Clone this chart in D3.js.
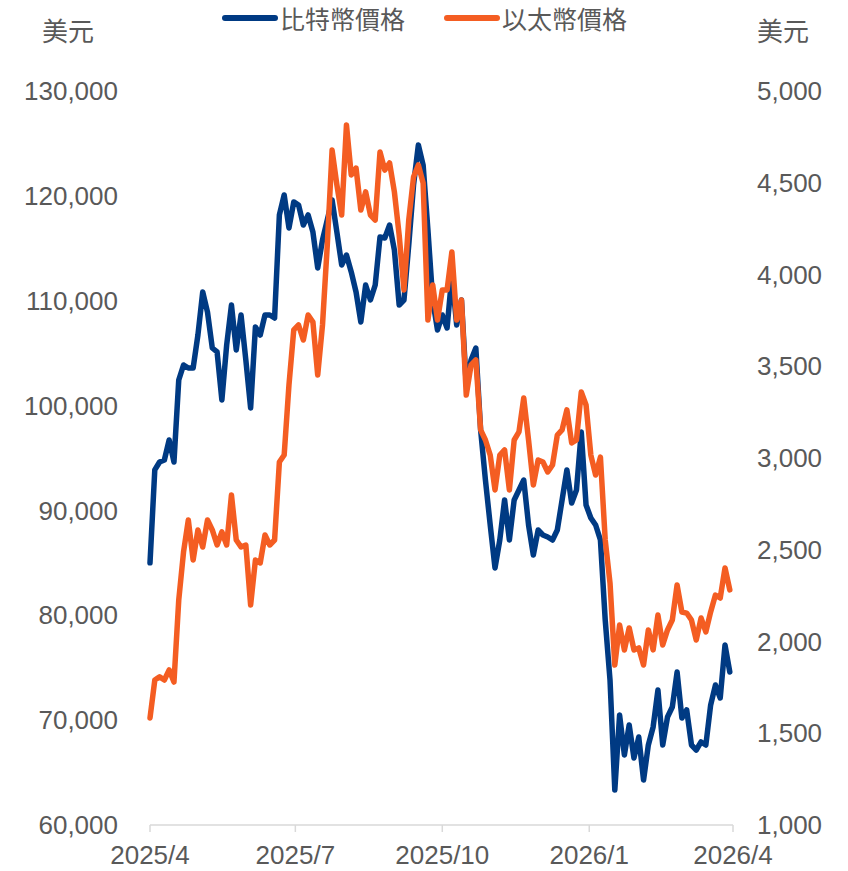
<!DOCTYPE html>
<html><head><meta charset="utf-8">
<script src="https://cdn.jsdelivr.net/npm/d3@7"></script>
<style>body{margin:0;background:#fff}svg{display:block}</style>
</head><body>
<script>
const startDate = "2025-04-01";
const stepDays = 3;
const btcValues = [85000,93860,94620,94810,96720,94620,102440,103870,103580,103580,
106730,110830,108920,105490,105110,100530,105780,109590,105300,108640,
104350,99770,107490,106730,108640,108640,108350,118180,120080,116940,
119420,119130,117220,118180,116550,113120,115790,117700,119610,116550,
113410,114360,112740,110830,107970,111500,110070,111500,116080,115980,
117220,114840,109590,110070,115310,121040,124850,122940,116740,110070,
107210,108640,107400,112450,107690,110070,101960,104350,105490,97670,
92900,88610,84510,87180,91000,87180,91000,91950,92900,88610,
85750,88130,87660,87470,87180,88130,91000,93860,90710,91950,
97480,90520,89280,88610,87180,79550,73830,63340,70490,66680,
69540,66390,68390,64290,67630,69350,72870,67630,70300,71250,
74590,70200,70970,67630,67150,67920,67630,71440,73350,72110,
77170,74590];
const ethValues = [1583,1790,1807,1790,1845,1779,2226,2488,2662,2444,
2608,2515,2662,2608,2526,2597,2526,2798,2553,2515,
2526,2199,2444,2428,2580,2526,2553,2978,3016,3398,
3698,3725,3643,3779,3741,3452,3725,4161,4678,4488,
4324,4815,4542,4580,4351,4450,4324,4297,4668,4569,
4608,4450,4215,3916,4297,4531,4597,4499,3752,3943,
3752,3916,3916,4123,3752,3861,3343,3507,3534,3153,
3098,3016,2826,3016,3044,2826,3098,3142,3327,3098,
2853,2989,2978,2924,2962,3125,3153,3262,3082,3098,
3360,3289,3016,2907,3005,2553,2319,1872,2090,1954,
2074,1954,1965,1872,2063,1954,2144,1981,2063,2117,
2308,2161,2155,2117,2008,2128,2052,2161,2253,2237,
2401,2281];
const xTickDates = ["2025-04-01","2025-07-01","2025-10-01","2026-01-01","2026-04-01"];
const xTickLabels = ["2025/4","2025/7","2025/10","2026/1","2026/4"];
const leftTicks = [60000,70000,80000,90000,100000,110000,120000,130000];
const rightTicks = [1000,1500,2000,2500,3000,3500,4000,4500,5000];
const seriesNames = ["比特幣價格","以太幣價格"];
const unitLabel = "美元";

const W = 848, H = 871;
const parse = d3.timeParse("%Y-%m-%d");
const start = parse(startDate);
const dates = btcValues.map((_, i) => d3.timeDay.offset(start, i * stepDays));

const x = d3.scaleTime().domain([parse("2025-04-01"), parse("2026-04-01")]).range([150, 733]);
const yL = d3.scaleLinear().domain([60000, 130000]).range([825, 91]);
const yR = d3.scaleLinear().domain([1000, 5000]).range([825, 91]);

const gray = "#595959";
const font = "'Liberation Sans', Arial, sans-serif";
const cjk = "'Noto Sans CJK TC', 'Noto Sans CJK SC', sans-serif";
const blue = "#003A83", orange = "#F45D22";

const svg = d3.select("body").append("svg").attr("width", W).attr("height", H);

// x axis
const xAxis = svg.append("g").attr("transform", "translate(0,825)");
xAxis.append("line").attr("x1", 150).attr("x2", 733).attr("stroke", "#d9d9d9").attr("stroke-width", 1.5);
xTickDates.forEach((d, i) => {
  const xp = x(parse(d));
  xAxis.append("line").attr("x1", xp).attr("x2", xp).attr("y1", 0).attr("y2", 7)
    .attr("stroke", "#d9d9d9").attr("stroke-width", 1.5);
  xAxis.append("text").attr("x", xp).attr("y", 39).attr("text-anchor", "middle")
    .attr("font-family", font).attr("font-size", 26).attr("fill", gray).text(xTickLabels[i]);
});

// left axis labels
const fmt = d3.format(",");
leftTicks.forEach(v => {
  svg.append("text").attr("x", 118).attr("y", yL(v)).attr("dy", "0.35em")
    .attr("text-anchor", "end").attr("font-family", font).attr("font-size", 26)
    .attr("fill", gray).text(fmt(v));
});
rightTicks.forEach(v => {
  svg.append("text").attr("x", 757).attr("y", yR(v)).attr("dy", "0.35em")
    .attr("text-anchor", "start").attr("font-family", font).attr("font-size", 26)
    .attr("fill", gray).text(fmt(v));
});

// unit labels
svg.append("text").attr("x", 42).attr("y", 41).attr("font-family", cjk).attr("font-size", 26)
  .attr("fill", gray).text(unitLabel);
svg.append("text").attr("x", 757).attr("y", 41).attr("font-family", cjk).attr("font-size", 26)
  .attr("fill", gray).text(unitLabel);

// lines
const lineL = d3.line().x((d, i) => x(dates[i])).y(d => yL(d)).curve(d3.curveLinear);
const lineR = d3.line().x((d, i) => x(dates[i])).y(d => yR(d)).curve(d3.curveLinear);
svg.append("path").datum(btcValues).attr("d", lineL).attr("fill", "none")
  .attr("stroke", blue).attr("stroke-width", 5.5).attr("stroke-linejoin", "round").attr("stroke-linecap", "round");
svg.append("path").datum(ethValues).attr("d", lineR).attr("fill", "none")
  .attr("stroke", orange).attr("stroke-width", 5.5).attr("stroke-linejoin", "round").attr("stroke-linecap", "round");

// legend
const leg = [{name: seriesNames[0], color: blue, x: 222}, {name: seriesNames[1], color: orange, x: 444}];
leg.forEach(l => {
  svg.append("line").attr("x1", l.x + 3).attr("x2", l.x + 53).attr("y1", 18).attr("y2", 18)
    .attr("stroke", l.color).attr("stroke-width", 6).attr("stroke-linecap", "round");
  svg.append("text").attr("x", l.x + 58).attr("y", 29).attr("font-family", cjk).attr("font-size", 25)
    .attr("fill", gray).text(l.name);
});
</script>
</body></html>
